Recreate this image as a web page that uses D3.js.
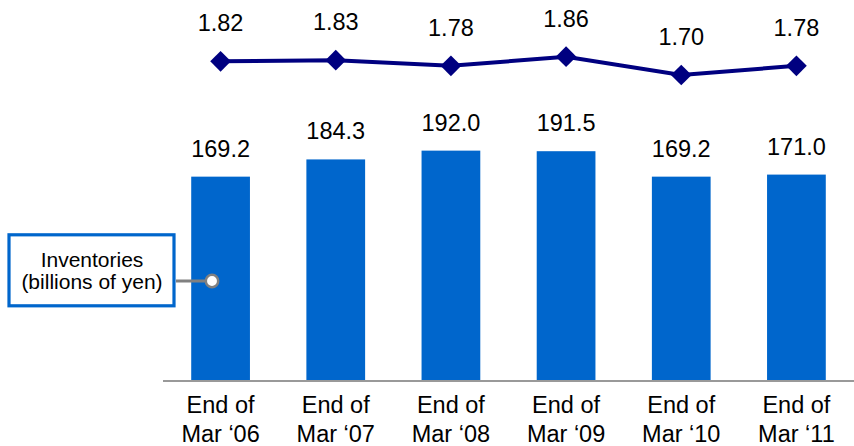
<!DOCTYPE html>
<html>
<head>
<meta charset="utf-8">
<script src="https://cdn.jsdelivr.net/npm/d3@7"></script>
<style>
  html, body { margin: 0; padding: 0; background: #fff; }
  svg { display: block; font-family: "Liberation Sans", Arial, sans-serif; }
</style>
</head>
<body>
<svg id="chart" width="854" height="446"></svg>
<script>
const categories = ["Mar \u201806", "Mar \u201807", "Mar \u201808", "Mar \u201809", "Mar \u201810", "Mar \u201811"];
const labelPrefix = "End of";
const inventories = [169.2, 184.3, 192.0, 191.5, 169.2, 171.0];
const turnover = [1.82, 1.83, 1.78, 1.86, 1.70, 1.78];
const legendLines = ["Inventories", "(billions of yen)"];

const svg = d3.select("#chart");

const x = d3.scaleBand().domain(categories).range([163, 854]).paddingInner(0.49).paddingOuter(0.245);
const yBar = d3.scaleLinear().domain([-9, 324]).range([380, 0]);
const yLine = d3.scaleLinear().domain([1.70, 1.86]).range([75, 56.7]);

const fontSize = 23.5;

// bars
svg.append("g").selectAll("rect").data(inventories).join("rect")
  .attr("x", (d, i) => x(categories[i]))
  .attr("y", d => yBar(d))
  .attr("width", x.bandwidth())
  .attr("height", d => yBar(-9) - yBar(d))
  .attr("fill", "#0066CC");

// bar labels
svg.append("g").selectAll("text").data(inventories).join("text")
  .attr("x", (d, i) => x(categories[i]) + x.bandwidth() / 2)
  .attr("y", d => yBar(d) - 20)
  .attr("text-anchor", "middle")
  .attr("font-size", fontSize)
  .attr("fill", "#000")
  .text(d => d.toFixed(1));

// axis baseline
svg.append("line")
  .attr("x1", 163).attr("x2", 854)
  .attr("y1", 381).attr("y2", 381)
  .attr("stroke", "#999").attr("stroke-width", 2);

// x labels
const xl = svg.append("g").selectAll("text").data(categories).join("text")
  .attr("text-anchor", "middle")
  .attr("font-size", fontSize)
  .attr("fill", "#000");
xl.append("tspan")
  .attr("x", d => x(d) + x.bandwidth() / 2)
  .attr("y", 413)
  .text(labelPrefix);
xl.append("tspan")
  .attr("x", d => x(d) + x.bandwidth() / 2)
  .attr("y", 441.5)
  .text(d => d);

// line
const line = d3.line()
  .x((d, i) => x(categories[i]) + x.bandwidth() / 2)
  .y(d => yLine(d));
svg.append("path").datum(turnover)
  .attr("d", line)
  .attr("fill", "none")
  .attr("stroke", "#000080")
  .attr("stroke-width", 4);

// diamonds
const sym = d3.symbol().type(d3.symbolDiamond2 || d3.symbolSquare).size(210);
svg.append("g").selectAll("path").data(turnover).join("path")
  .attr("d", d3.symbol().type(d3.symbolSquare).size(215))
  .attr("transform", (d, i) => `translate(${x(categories[i]) + x.bandwidth() / 2},${yLine(d)}) rotate(45)`)
  .attr("fill", "#000080");

// line labels
svg.append("g").selectAll("text").data(turnover).join("text")
  .attr("x", (d, i) => x(categories[i]) + x.bandwidth() / 2)
  .attr("y", d => yLine(d) - 30)
  .attr("text-anchor", "middle")
  .attr("font-size", fontSize)
  .attr("fill", "#000")
  .text(d => d.toFixed(2));

// legend callout
const lg = svg.append("g");
lg.append("line")
  .attr("x1", 176).attr("x2", 212)
  .attr("y1", 281).attr("y2", 281)
  .attr("stroke", "#808080").attr("stroke-width", 3);
lg.append("circle")
  .attr("cx", 212).attr("cy", 281).attr("r", 6.2)
  .attr("fill", "#fff").attr("stroke", "#808080").attr("stroke-width", 2.5);
lg.append("rect")
  .attr("x", 9).attr("y", 234.8)
  .attr("width", 165).attr("height", 71)
  .attr("fill", "#fff").attr("stroke", "#0066CC").attr("stroke-width", 3.2);
lg.selectAll("text").data(legendLines).join("text")
  .attr("x", 92)
  .attr("y", (d, i) => 266.5 + i * 22)
  .attr("text-anchor", "middle")
  .attr("font-size", 21)
  .attr("fill", "#000")
  .text(d => d);
</script>
</body>
</html>
